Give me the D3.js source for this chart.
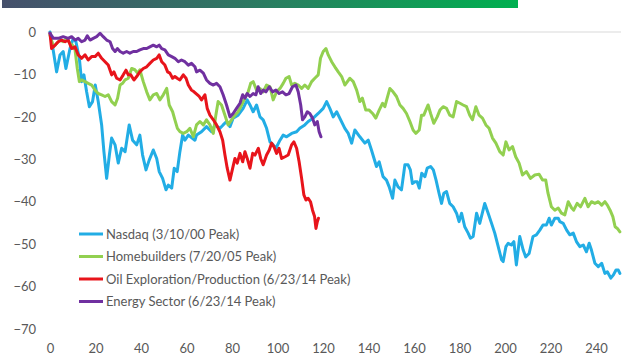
<!DOCTYPE html>
<html><head><meta charset="utf-8">
<script src="https://cdn.jsdelivr.net/npm/d3@7"></script>
<style>body{margin:0;background:#fff}svg{display:block}</style>
</head><body>
<script>
// ---- data: [trading day, % from peak] ----
const seriesNames = ["Nasdaq (3/10/00 Peak)", "Homebuilders (7/20/05 Peak)", "Oil Exploration/Production (6/23/14 Peak)", "Energy Sector (6/23/14 Peak)"];
const seriesColors = ["#22ade5", "#92d050", "#e8141b", "#7030a0"];
const xTicks = [0,20,40,60,80,100,120,140,160,180,200,220,240];
const yTicks = [0,-10,-20,-30,-40,-50,-60,-70];

const nasdaq = [[0,0],[1.5,-4.6],[2.9,-9.4],[4.4,-5.4],[5.8,-4.6],[7,-8.6],[8.8,-3.9],[10.2,-1.5],[11.4,-2.3],[12.9,-6.2],[13.9,-11.7],[14.9,-10.1],[16.1,-14.1],[17.3,-17.6],[18.7,-16.4],[19.9,-12.5],[21.2,-16.4],[22.7,-21.9],[23.7,-28.2],[24.9,-34.5],[26.1,-29],[27.1,-25],[28.6,-26.6],[30,-30.9],[31.5,-27.4],[33,-28.2],[34.8,-21.9],[36.3,-25.5],[38.1,-26.6],[39.5,-24.3],[40.7,-29],[42.2,-32.5],[43.6,-30.2],[45.4,-27.8],[46.9,-29.8],[48,-32.9],[49.5,-34.5],[51,-37.2],[52,-36.1],[53.5,-36.8],[54.6,-32.1],[55.9,-32.9],[57.1,-28.2],[58.3,-24.3],[59.3,-25.5],[60.8,-24.3],
[63.7,-25.5],[64.4,-24.3],[66.6,-23.5],[68.8,-22.3],[71,-23.5],[72.5,-21.9],[74.7,-22.7],[76.1,-21.9],[77.6,-21.1],[79.1,-22.3],[80.5,-20.3],[82.7,-19.6],[84.9,-18],[86.7,-16],[87.9,-17.2],[89.3,-18.8],[90.8,-17.2],[92.3,-20],[93.7,-20.7],[95.2,-22.7],[96.7,-25.9],[98.1,-26.6],[99.3,-27.4],[101.1,-25.5],[102.5,-24.3],[104,-24.7],[106.2,-23.9],[108.4,-23.5],[109.8,-22.7],[112,-21.9],[113.5,-21.1],[115.7,-20.3],[117.9,-19.2],[120.1,-18],[121.6,-16.4],[123,-18],[124.5,-20],[126,-18.8],
[129.6,-22.7],[131.1,-23.9],[132.6,-26.2],[134,-23.1],[136.2,-24.7],[138.4,-26.2],[139.9,-25.5],[141.3,-27.8],[143.5,-31.7],[144.7,-30.6],[146.4,-34.1],[147.9,-34.9],[149.1,-36.5],[150.6,-39.2],[151.6,-34.9],[153,-36.5],[154.5,-37.2],[156,-31.3],[157.4,-31.3],[158.4,-32.5],[159.3,-35.7],[160.4,-35.3],[161.4,-35.3],[162.3,-36.8],[163.4,-33.3],[164.8,-34.1],[165.8,-32.1],[167.3,-31.7],[168.5,-32.5],[169.7,-34.9],[171,-38],[172.1,-40.4],[173.1,-38],[174.3,-37.6],[175.7,-40.4],[177.2,-41.2],[178.7,-42.7],[179.8,-44.7],[180.9,-42.7],[182.3,-45.9],[183.8,-47.4],[184.8,-48.6],[186,-48.2],[187.5,-42.7],[188.9,-45.1],[191.1,-40.4],[192.6,-42.7],[194.1,-45.1],[195.5,-47.4],
[198.5,-53.7],[199.2,-54.1],[200.4,-50.6],[201.4,-49.8],[202.8,-50.2],[203.9,-49.4],[205,-54.9],[206.5,-48.2],[208,-51.4],[209.1,-53],[210.6,-52.2],[212.3,-48.2],[213.8,-47.8],[215.3,-46.7],[216.7,-45.5],[218.2,-45.5],[219.4,-43.9],[220.4,-45.5],[221.9,-43.9],[223.4,-43.9],[224.1,-44.7],[225.6,-45.1],[227.1,-46.7],[228.5,-47.8],[230,-47.4],[231.4,-49.4],[232.9,-50.6],[234.4,-50.2],[235.8,-51.8],[237,-49.8],[238,-51.4],[239.5,-54.5],[241,-55.3],[242.5,-54.5],[243.9,-56.9],[245,-56.5],[246.5,-58],[247.6,-57.3],[248.8,-56.1],[249.8,-56.1],[250.5,-56.9]];

const homebuilders = [[0,-0.7],[1.5,-3.5],[2.9,-2.7],[4.4,-1.9],[5.8,-2.3],[7.3,-1.5],[8.8,-2.7],[9.9,-3.1],[11,-4.2],[12,-8.6],[12.9,-11.7],[13.9,-11.3],[15.4,-11.7],[16.8,-12.1],[18.3,-12.5],[19.8,-13.7],[21.2,-14.5],[22.7,-14.8],[24.2,-15.2],[25.6,-14.8],[27.1,-16.4],[28.6,-17.2],[29.7,-15.6],[30.8,-12.5],[31.9,-12.1],[33,-11.3],[34.4,-10.9],[35.9,-8.6],[37.3,-8.9],[38.5,-9.7],[39.5,-8.9],[41,-11.7],[42.5,-14.1],[43.9,-16],[45.4,-14.8],[46.9,-14.5],[48.3,-16],[49.8,-14.8],[51.3,-13.3],[52.4,-17.2],[53.9,-18.8],[54.9,-20.7],[56,-22.7],[57.1,-23.5],[58.6,-23.9],[60.1,-23.5],
[61.5,-22.7],[63,-24.7],[64.4,-21.9],[65.9,-21.1],[67.4,-21.9],[68.8,-20.7],[70.3,-21.9],[71.8,-23.9],[72.9,-19.6],[73.9,-16.4],[75.4,-17.2],[76.9,-19.6],[78.3,-21.9],[79.8,-20.7],[81.3,-19.6],[82.7,-18.8],[84.2,-17.2],[85.7,-15.6],[87.1,-14.1],[88.2,-12.1],[89.3,-11.7],[90.8,-13.7],[92.3,-13.3],[93.7,-14.1],[95.2,-12.5],[96.7,-12.9],[98.1,-16],[99.6,-14.1],[101.1,-13.3],[102.5,-12.1],[103.7,-10.9],[105.1,-10.5],[106.2,-12.5],[107.6,-12.1],[109.1,-12.5],[110.6,-13.3],[112,-12.5],[113.5,-13.3],[115,-11.7],[116.4,-10.9],[117.9,-10.1],[118.9,-6.2],[120.1,-4.6],[121.3,-3.9],[122.3,-5.4],[123.8,-7],[125.2,-8.2],[126.7,-9.4],[128.2,-10.5],[129.6,-12.5],
[131.8,-10.9],[133.3,-11.7],[134.8,-13.7],[136.2,-16.4],[137.3,-15.6],[138.8,-18.4],[140.3,-18.4],[141.8,-19.2],[143.2,-20.3],[144.7,-18.4],[146.2,-16.8],[147.2,-17.6],[148.2,-15.6],[149.4,-13.3],[150.8,-14.1],[152.3,-15.2],[153.8,-17.2],[155.2,-18],[156.7,-19.2],[158.2,-21.1],[159.6,-23.1],[160.8,-23.9],[162.3,-23.1],[163.3,-19.6],[164.3,-19.6],[165.2,-18.4],[166.2,-17.2],[167.3,-19.2],[168.7,-21.5],[170.2,-20],[171.4,-18.4],[172.8,-17.6],[174.3,-18],[175.7,-19.6],[177.2,-20],[178.7,-16.4],[180.2,-16.8],[181.6,-17.2],[183.1,-17.6],[184.5,-19.6],[185.7,-20.7],[187.2,-17.6],[188.6,-19.6],[190.1,-20.3],[191.6,-21.9],[193,-22.7],
[194.5,-25],[196,-26.2],[197.7,-28.2],[199.2,-29],[200.4,-25.9],[201.8,-27.8],[203.3,-27],[204.7,-29.4],[206.2,-30.9],[207.7,-33.7],[209.4,-32.9],[211.2,-34.5],[213.1,-33.7],[215,-33.5],[216.5,-34.9],[217.9,-34.9],[218.9,-38],[220.4,-41.2],[221.9,-42],[223.4,-41.5],[224.8,-42.7],[226.3,-43.1],[227.8,-40],[229.3,-41.5],[230.2,-42],[231.7,-40.4],[233.2,-41.2],[235.1,-39.2],[236.5,-41.2],[238,-40],[239.5,-40.4],[241,-40],[242.5,-40.8],[243.9,-40],[245,-40.8],[246.2,-42],[247.4,-43.5],[248.4,-45.9],[249.4,-46.3],[250.5,-47.1]];

const oilExploration = [[0,-0.3],[0.7,-3.9],[2.2,-3.1],[3.6,-2.3],[5.1,-1.9],[6.6,-2.3],[8,-1.9],[9.5,-3.9],[11,-3.5],[12.4,-5.4],[13.9,-6.2],[15.4,-5.4],[16.8,-6.6],[18.3,-5.8],[19.8,-5.8],[21.2,-5],[22.7,-6.2],[24.2,-7],[25.6,-7.8],[27.1,-10.1],[28.1,-9.4],[29.3,-10.9],[30.8,-11.3],[32.2,-10.1],[33.4,-9],[34.4,-10.1],[35.5,-10.1],[36.9,-11.3],[38.1,-10.5],[39.5,-9.4],[41,-8.6],[42.5,-8.2],[43.9,-7.4],[45.4,-6.6],[46.9,-6.2],[48,-5.4],[49.1,-7],[50.5,-7.8],[51.7,-9.4],[52.7,-9.7],[53.9,-10.9],[54.9,-10.5],[55.9,-10.9],[57.1,-11.3],[58.6,-10.1],[59.8,-10.9],[60.8,-12.5],[62.2,-13.7],[63.3,-14.1],
[65.6,-15.2],[66.6,-16],[68.1,-14.8],[69.1,-18],[70.3,-19.6],[71.8,-20.7],[73.2,-21.9],[74.7,-23.5],[75.9,-25.5],[76.9,-29],[77.9,-32.1],[79.1,-34.9],[80.3,-32.1],[81.3,-29.8],[82.3,-30.9],[83.5,-28.6],[84.7,-30.6],[85.7,-28.2],[86.7,-29.8],[87.9,-32.1],[89.1,-28.6],[90.1,-29],[91.6,-27.4],[92.6,-29.8],[93.7,-31.3],[95.2,-29],[96.4,-27.8],[97.4,-26.2],[98.4,-27],[99.6,-28.6],[100.7,-27.4],[101.8,-29.8],[103.3,-29.4],[104.7,-29],[106.2,-26.6],[107.2,-25.9],[108.4,-27.4],[109.5,-30.6],[110.6,-34.5],[111.6,-38.4],[112.5,-39.6],[113.5,-39.2],[114.5,-40],[115.4,-42],[116.3,-43.5],[116.9,-46.3],[117.5,-44.7],[118,-43.9]];

const energySector = [[0,-0.3],[1.5,-1.5],[3.6,-1.5],[5.8,-1.1],[8,-1.5],[9.5,-1.1],[11,-1.9],[12.4,-1.5],[13.9,-2.3],[15.4,-1.9],[16.4,-0.9],[17.6,-1.9],[19,-1.5],[20.5,-1.1],[22,-0.3],[23.4,-1.1],[24.9,-1.9],[26.4,-2.3],[27.5,-3.9],[28.6,-4.6],[29.6,-3.9],[30.8,-4.6],[32.2,-5],[33.7,-4.6],[35.1,-5],[36.6,-4.6],[38.1,-4.6],[39.5,-4.2],[41,-3.9],[42.5,-3.9],[43.9,-3.5],[45.4,-3.1],[46.9,-3.5],[48,-3.1],[49.1,-3.9],[50.5,-4.2],[52,-5.4],[53.5,-5.8],[54.9,-6.2],[56.4,-7],[57.8,-6.6],[59.3,-7],[60.8,-7.8],[62.2,-7.4],
[63.7,-8.2],[64.4,-9.4],[65.9,-9],[67.4,-9.7],[68.8,-11.3],[70.3,-12.1],[71.8,-12.5],[73.2,-12.1],[74.7,-12.9],[76.1,-14.8],[77.6,-17.2],[79.1,-20],[80.5,-19.2],[82,-18],[83.5,-16.8],[84.7,-14.8],[85.7,-15.6],[86.7,-14.5],[87.9,-15.2],[89.3,-14.5],[90.5,-14.8],[91.5,-12.9],[92.6,-14.5],[93.7,-13.7],[94.9,-14.1],[96.4,-12.9],[97.8,-14.1],[99.3,-13.7],[100.7,-14.5],[102.2,-14.1],[103.7,-14.8],[105.1,-14.5],[106.6,-12.9],[108.1,-12.5],[109.1,-14.1],[110.2,-17.2],[111,-20.7],[112,-20],[113.1,-18.8],[114.2,-19.2],[115.4,-20.3],[116.4,-21.9],[117.5,-21.1],[118.3,-23.5],[119.1,-24.7]];

const allSeries = [nasdaq, homebuilders, oilExploration, energySector];

// ---- drawing ----
const W = 640, H = 360;
const svg = d3.select("body").append("svg").attr("width", W).attr("height", H);
const font = "Lato, 'Open Sans', sans-serif";

// header band
const grad = svg.append("defs").append("linearGradient").attr("id","hdr").attr("x1","0%").attr("x2","100%");
grad.append("stop").attr("offset","0%").attr("stop-color","#46506c");
grad.append("stop").attr("offset","45%").attr("stop-color","#2f7663");
grad.append("stop").attr("offset","100%").attr("stop-color","#00b050");
svg.append("rect").attr("x",2).attr("y",0).attr("width",516).attr("height",8).attr("fill","url(#hdr)");

const x = d3.scaleLinear().domain([0, 240]).range([50, 596]);
const y = d3.scaleLinear().domain([-70, 0]).range([329, 32]);

// zero line
svg.append("line").attr("x1", x(-1)).attr("x2", x(251)).attr("y1", y(0)).attr("y2", y(0))
  .attr("stroke", "#d9d9d9").attr("stroke-width", 1);

// y axis labels
const yAxis = d3.axisLeft(y).tickValues(yTicks).tickSize(0).tickPadding(0).tickFormat(d3.format("d"));
const gy = svg.append("g").attr("transform", "translate(36,0)").call(yAxis);
gy.select(".domain").remove();
gy.selectAll("text").attr("fill","#595959").style("font-family",font).style("font-size","13px");

// x axis labels
const xAxis = d3.axisBottom(x).tickValues(xTicks).tickSize(0).tickPadding(0).tickFormat(d3.format("d"));
const gx = svg.append("g").attr("transform", "translate(0,344)").call(xAxis);
gx.select(".domain").remove();
gx.selectAll("text").attr("fill","#595959").style("font-family",font).style("font-size","13px");

// lines
const line = d3.line().x(d => x(d[0])).y(d => y(d[1])).curve(d3.curveLinear);
svg.append("g").selectAll("path").data(allSeries).join("path")
  .attr("d", line).attr("fill","none")
  .attr("stroke", (d,i) => seriesColors[i]).attr("stroke-width", 3)
  .attr("stroke-linejoin","round").attr("stroke-linecap","round");

// legend
const lg = svg.append("g").selectAll("g").data(seriesNames).join("g")
  .attr("transform", (d,i) => `translate(79,${234 + i*22.5})`);
lg.append("line").attr("x1",0).attr("x2",24).attr("stroke",(d,i)=>seriesColors[i]).attr("stroke-width",3);
lg.append("text").attr("x",27).attr("dy","0.35em").text(d=>d)
  .attr("fill","#595959").style("font-family",font).style("font-size","13px");
</script>
</body></html>
